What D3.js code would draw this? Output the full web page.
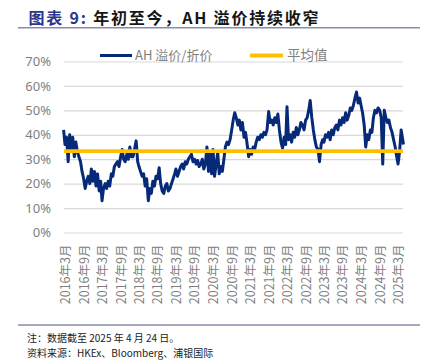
<!DOCTYPE html>
<html><head><meta charset="utf-8">
<script src="https://cdn.jsdelivr.net/npm/d3@7"></script>
<style>
html,body{margin:0;padding:0;background:#fff;}
svg{display:block;}
</style>
</head><body>
<svg id="c" width="428" height="360"></svg>
<script>
// ---- data ----
const titleLead = "图表 9:";
const titleRest = " 年初至今，AH 溢价持续收窄";
const seriesName = "AH 溢价/折价";
const meanName = "平均值";
const noteText = "注：数据截至 2025 年 4 月 24 日。";
const sourceText = "资料来源：HKEx、Bloomberg、浦银国际";

const yTicks = [0, 10, 20, 30, 40, 50, 60, 70];
const tickLabels = ["2016年3月","2016年9月","2017年3月","2017年9月","2018年3月","2018年9月","2019年3月","2019年9月","2020年3月","2020年9月","2021年3月","2021年9月","2022年3月","2022年9月","2023年3月","2023年9月","2024年3月","2024年9月","2025年3月"];
const tickDates = ["2016-03-01","2016-09-01","2017-03-01","2017-09-01","2018-03-01","2018-09-01","2019-03-01","2019-09-01","2020-03-01","2020-09-01","2021-03-01","2021-09-01","2022-03-01","2022-09-01","2023-03-01","2023-09-01","2024-03-01","2024-09-01","2025-03-01"];

// month, and premium (%) read on the 1st and 16th of that month
const months = ["2016-02","2016-03","2016-04","2016-05","2016-06","2016-07","2016-08","2016-09","2016-10","2016-11","2016-12",
"2017-01","2017-02","2017-03","2017-04","2017-05","2017-06","2017-07","2017-08","2017-09","2017-10","2017-11","2017-12",
"2018-01","2018-02","2018-03","2018-04","2018-05","2018-06","2018-07","2018-08","2018-09","2018-10","2018-11","2018-12",
"2019-01","2019-02","2019-03","2019-04","2019-05","2019-06","2019-07","2019-08","2019-09","2019-10","2019-11","2019-12",
"2020-01","2020-02","2020-03","2020-04","2020-05","2020-06","2020-07","2020-08","2020-09","2020-10","2020-11","2020-12",
"2021-01","2021-02","2021-03","2021-04","2021-05","2021-06","2021-07","2021-08","2021-09","2021-10","2021-11","2021-12",
"2022-01","2022-02","2022-03","2022-04","2022-05","2022-06","2022-07","2022-08","2022-09","2022-10","2022-11","2022-12",
"2023-01","2023-02","2023-03","2023-04","2023-05","2023-06","2023-07","2023-08","2023-09","2023-10","2023-11","2023-12",
"2024-01","2024-02","2024-03","2024-04","2024-05","2024-06","2024-07","2024-08","2024-09","2024-10","2024-11","2024-12",
"2025-01","2025-02","2025-03","2025-04"];
const premiumPairs = [[null,42],[36,39],[29,40],[34,39],[31,37],[33,31],[29,25],[22,18],[21,23],[20,26],[21,25],
[19,24],[17,21],[13,18],[20,18],[21,19],[24,23],[27,28],[29,27],[31,34],[30,29],[32,30],[35,31],
[31,34],[37.5,29],[27,25],[23,24],[19,22],[13,18],[16,21],[19,23],[22,26.5],[20,17],[16,19],[20,17],
[18,20],[22,24],[26,23],[25,27],[28,26],[29,28],[30,31],[32,29],[30,28],[29.5,27],[28,30],[26,28],
[35,25],[33,24],[34,23],[28,33],[24,27],[25,30],[35,37],[36,38],[42,46],[49,47],[44,46],[42,45],
[39,41],[36,31],[34,32],[35,34],[37,39],[38,40],[39,41],[40,42],[49.5,45],[46,44],[47,45],[48.5,42],
[37,34.5],[39,36],[51.5,38],[40,37],[41,39],[43,40],[42,45],[44,42],[46,47],[50,54],[47,42],[38,35],
[34,29],[36,38],[37,40],[39,41],[38,42],[40,43],[44,42],[46,44],[47,45],[49,46],[48,51],[50,52],
[55,57.5],[53,55],[52,49],[44,35],[40,38],[42,41],[47,50],[49,51],[50,47],[28,50],[47,45],[46,43],
[41,38],[35,31],[28,33],[42,null]];
const lastDate = "2025-04-24";
const lastValue = 36;
const meanValue = 33.3;

// ---- build ----
const parse = d3.timeParse("%Y-%m-%d");
const series = [];
months.forEach((m, i) => {
  const [a, b] = premiumPairs[i];
  if (a != null) series.push({date: parse(m + "-01"), v: a});
  if (b != null) series.push({date: parse(m + "-16"), v: b});
});
series.push({date: parse(lastDate), v: lastValue});

const svg = d3.select("#c");
const plot = {left: 64, right: 403, top: 61.5, bottom: 232.5};
const x = d3.scaleTime().domain([parse("2016-02-15"), parse(lastDate)]).range([63.5, 403.5]);
const y = d3.scaleLinear().domain([0, 70]).range([plot.bottom, plot.top]);

// title
const t = svg.append("text").attr("x", 28.5).attr("y", 23.5)
  .attr("font-family", "'Noto Sans CJK SC', sans-serif").attr("font-weight", 700)
  .attr("font-size", 16).attr("letter-spacing", 1.8).attr("xml:space", "preserve");
t.append("tspan").attr("fill", "#2a3590").text(titleLead);
t.append("tspan").attr("fill", "#151515").text(titleRest);
svg.append("line").attr("x1", 18).attr("x2", 420).attr("y1", 27.7).attr("y2", 27.7)
  .attr("stroke", "#8a8aaa").attr("stroke-width", 1.5);

// gridlines
const yAxis = d3.axisLeft(y).tickValues(yTicks).tickFormat(d => d + "%")
  .tickSize(-(plot.right - plot.left)).tickPadding(13);
const gy = svg.append("g").attr("transform", `translate(${plot.left},0)`).call(yAxis);
gy.select(".domain").remove();
gy.selectAll(".tick line").attr("stroke", "#d9d9d9").attr("stroke-width", 1.2);
gy.selectAll(".tick text").attr("fill", "#7f7f7f").attr("font-size", 13)
  .attr("font-family", "'Noto Sans', sans-serif");

// x axis labels
const xAxis = d3.axisBottom(x).tickValues(tickDates.map(parse))
  .tickFormat((d, i) => tickLabels[i]).tickSize(0);
const gx = svg.append("g").attr("transform", `translate(0,${plot.bottom})`).call(xAxis);
gx.select(".domain").remove();
gx.selectAll(".tick text")
  .attr("transform", "rotate(-90)")
  .attr("text-anchor", "end")
  .attr("dx", "-12").attr("dy", "0.35em").attr("y", 0)
  .attr("fill", "#7f7f7f").attr("font-size", 12.5)
  .attr("font-family", "'Noto Sans CJK SC', sans-serif");

// series
const line = d3.line().x(d => x(d.date)).y(d => y(d.v)).curve(d3.curveLinear);
svg.append("path").datum(series).attr("d", line)
  .attr("fill", "none").attr("stroke", "#062a78").attr("stroke-width", 3)
  .attr("stroke-linejoin", "round");

// mean line
svg.append("line").attr("x1", plot.left).attr("x2", plot.right)
  .attr("y1", y(meanValue)).attr("y2", y(meanValue))
  .attr("stroke", "#ffc000").attr("stroke-width", 3.8);

// legend
svg.append("line").attr("x1", 100).attr("x2", 132).attr("y1", 55.5).attr("y2", 55.5)
  .attr("stroke", "#062a78").attr("stroke-width", 3);
svg.append("text").attr("x", 135).attr("y", 60).text(seriesName)
  .attr("fill", "#7f7f7f").attr("font-size", 13).attr("font-family", "'Noto Sans CJK SC', sans-serif");
svg.append("line").attr("x1", 250).attr("x2", 283).attr("y1", 55.5).attr("y2", 55.5)
  .attr("stroke", "#ffc000").attr("stroke-width", 4);
svg.append("text").attr("x", 287).attr("y", 60).text(meanName)
  .attr("fill", "#7f7f7f").attr("font-size", 13.5).attr("font-family", "'Noto Sans CJK SC', sans-serif");

// footer
svg.append("line").attr("x1", 18).attr("x2", 420).attr("y1", 325).attr("y2", 325)
  .attr("stroke", "#8a8aaa").attr("stroke-width", 1.5);
svg.append("text").attr("x", 27).attr("y", 342).text(noteText)
  .attr("fill", "#222").attr("font-size", 10).attr("font-family", "'Noto Sans CJK SC', sans-serif");
svg.append("text").attr("x", 27).attr("y", 356.5).text(sourceText)
  .attr("fill", "#222").attr("font-size", 10).attr("font-family", "'Noto Sans CJK SC', sans-serif");
</script>
</body></html>
